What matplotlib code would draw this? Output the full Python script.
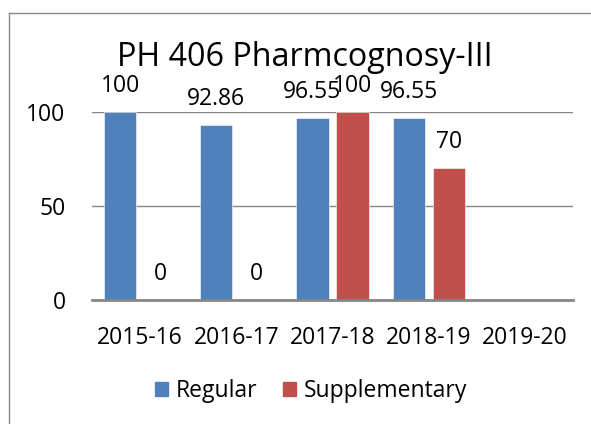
import numpy as np
import matplotlib
matplotlib.use('Agg')
import matplotlib.pyplot as plt
from matplotlib.lines import Line2D
from matplotlib.patches import Patch

plt.rcParams['font.family'] = ['Open Sans', 'DejaVu Sans']

# data
years = ['2015-16', '2016-17', '2017-18', '2018-19', '2019-20']
regular = [100, 92.86, 96.55, 96.55, np.nan]
supplementary = [0, 0, 100, 70, np.nan]

blue = '#4F81BD'
red = '#C0504D'
grid_col = '#868686'

fig = plt.figure(figsize=(5.91, 4.24), dpi=100)
ax = fig.add_axes([92 / 591, 1 - 300 / 424, 481 / 591, 188 / 424])

x = np.arange(len(years))
w = 0.333
off = 0.208
ax.bar(x - off, regular, w, color=blue, edgecolor='white', linewidth=0.4, zorder=3)
ax.bar(x + off, supplementary, w, color=red, edgecolor='white', linewidth=0.4, zorder=3)

# data labels
for xs, vals in [(x - off, regular), (x + off, supplementary)]:
    for xi, v in zip(xs, vals):
        if np.isnan(v):
            continue
        txt = ('%.2f' % v).rstrip('0').rstrip('.')
        ax.annotate(txt, (xi, v), xytext=(0, 26), textcoords='offset pixels',
                    ha='center', va='center', fontsize=16.5, zorder=5)

ax.set_xlim(-0.5, len(years) - 0.5)
ax.set_ylim(0, 100)
ax.set_yticks([0, 50, 100])
ax.set_xticks(x)
ax.set_xticklabels(years)
ax.tick_params(axis='both', length=0, labelsize=16.5)
ax.tick_params(axis='x', pad=19)
ax.tick_params(axis='y', pad=19)
ax.grid(axis='y', color=grid_col, linewidth=1, zorder=0)
for s in ['top', 'right', 'left']:
    ax.spines[s].set_visible(False)
ax.spines['bottom'].set_color(grid_col)
ax.spines['bottom'].set_linewidth(2)
ax.spines['bottom'].set_zorder(4)

fig.text(305 / 591, 1 - 58 / 424, 'PH 406 Pharmcognosy-III', ha='center', va='center', fontsize=23.2)

handles = [Patch(color=blue), Patch(color=red)]
fig.legend(handles, ['Regular', 'Supplementary'], loc='center', bbox_to_anchor=(311 / 591, 1 - 391 / 424),
           ncol=2, frameon=False, fontsize=16.5, handlelength=0.58, handleheight=0.58,
           handletextpad=0.35, columnspacing=1.1)

# outer chart border (top and left edges visible)
fig.add_artist(Line2D([9 / 591, 1], [1 - 13 / 424, 1 - 13 / 424], transform=fig.transFigure, color=grid_col, lw=1))
fig.add_artist(Line2D([9 / 591, 9 / 591], [0, 1 - 13 / 424], transform=fig.transFigure, color=grid_col, lw=1))

fig.savefig('out.png', dpi=100)
